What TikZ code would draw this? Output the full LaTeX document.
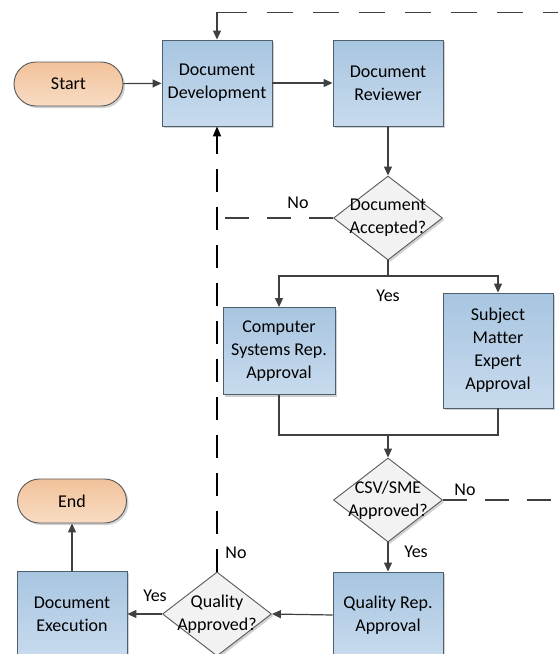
\documentclass[tikz,border=0pt]{standalone}
\usepackage{fontspec}
\setmainfont{Carlito}[Ligatures=NoCommon]
\usetikzlibrary{arrows.meta,shapes.geometric,shadows}
\definecolor{boxtop}{HTML}{A8C5E0}
\definecolor{boxbot}{HTML}{C8DBEE}
\definecolor{boxline}{HTML}{4E5F6E}
\definecolor{termtop}{HTML}{F2C29A}
\definecolor{termbot}{HTML}{F8DCC4}
\definecolor{decfill}{HTML}{F2F2F2}
\definecolor{decline}{HTML}{595959}
\definecolor{lnc}{HTML}{404040}
\begin{document}
\begin{tikzpicture}[x=1pt,y=-1pt,
  font=\fontsize{18}{23}\selectfont,
  shad/.style={drop shadow={shadow xshift=2pt,shadow yshift=-2pt,opacity=0.18,fill=black}},
  proc/.style={draw=boxline,line width=0.9pt,top color=boxtop,bottom color=boxbot,
    minimum width=110pt,minimum height=86pt,align=center,inner sep=2pt,shad},
  term/.style={draw=decline,line width=0.9pt,top color=termtop,bottom color=termbot,
    rounded corners=22pt,minimum width=109pt,minimum height=44pt,inner sep=2pt,shad},
  dec/.style={diamond,draw=decline,line width=0.9pt,fill=decfill,
    minimum width=109pt,minimum height=84pt,inner sep=0pt,shad},
  dtext/.style={align=center,inner sep=0pt},
  lbl/.style={inner sep=1pt},
  conn/.style={draw=lnc,line width=1.2pt,-{Triangle[length=9pt,width=8pt]}},
  plain/.style={draw=lnc,line width=1.2pt},
  dashl/.style={draw=lnc,line width=1.2pt,dash pattern=on 24pt off 18pt},
  dashtop/.style={draw=lnc,line width=1.2pt,
    dash pattern=on 48pt off 20pt on 26pt off 20pt on 26pt off 20pt on 26pt off 20pt on 26pt off 20pt on 26pt off 20pt on 26pt off 20pt on 26pt off 20pt},
  dashb/.style={draw=black,line width=1.6pt,dash pattern=on 23pt off 15pt,
    -{Triangle[length=10pt,width=8pt]}}]
\clip (0,0) rectangle (558,654);
\fill[white] (0,0) rectangle (558,654);

% nodes
\node[term] (start) at (68.5,84) {Start};
\node[proc] (dd) at (217,83) {Document\\Development};
\node[proc] (dr) at (388,83) {Document\\Reviewer};
\node[dec,label={[dtext]center:Document\\Accepted?}] (acc) at (388,218) {};
\node[proc,minimum width=112pt,minimum height=87pt] (cs) at (279,351) {Computer\\Systems Rep.\\Approval};
\node[proc,minimum height=115pt] (sme) at (498,350.5) {Subject\\Matter\\Expert\\Approval};
\node[dec,label={[dtext]center:CSV/SME\\Approved?}] (csv) at (388,500) {};
\node[proc] (qr) at (388,615) {Quality Rep.\\Approval};
\node[dec,label={[dtext]center:Quality\\Approved?}] (qa) at (217,614) {};
\node[proc] (de) at (72,614) {Document\\Execution};
\node[term] (end) at (72,501) {End};

% helper coordinates
\coordinate (split) at (388,276);
\coordinate (merge) at (388,435);
\coordinate (accj) at (217,218);
\coordinate (rt1) at (558,500);
\coordinate (rt2) at (558,12.5);
\coordinate (topc) at (217,12.5);

% connectors
\draw[conn] (start) -- (dd);
\draw[conn] (dd) -- (dr);
\draw[conn] (dr) -- (acc);
\draw[plain] (acc.south) -- (split);
\draw[conn] (split) -| (cs.north);
\draw[conn] (split) -| (sme.north);
\draw[plain] (cs.south) |- (merge);
\draw[plain] (sme.south) |- (merge);
\draw[conn] (merge) -- (csv.north);
\draw[conn] (csv.south) -- (qr.north);
\draw[conn] (qr.west) -- (qa.east);
\draw[conn] (qa.west) -- (de.east);
\draw[conn] (de.north) -- (end.south);
\draw[dashb] (qa.north) -- (dd.south);
\draw[dashl] (acc.west) -- (accj);
\draw[dashl] (csv.east) -- (rt1);
\draw[dashtop,{Triangle[length=9pt,width=8pt]}-] (dd.north) -- (topc) -- (rt2);

% labels
\node[lbl] (no1) at (298,203) {No};
\node[lbl] (yes1) at (388,296) {Yes};
\node[lbl] (no2) at (465,490) {No};
\node[lbl] (yes2) at (416,552) {Yes};
\node[lbl] (no3) at (236,553) {No};
\node[lbl] (yes3) at (155,596) {Yes};
\end{tikzpicture}
\end{document}
